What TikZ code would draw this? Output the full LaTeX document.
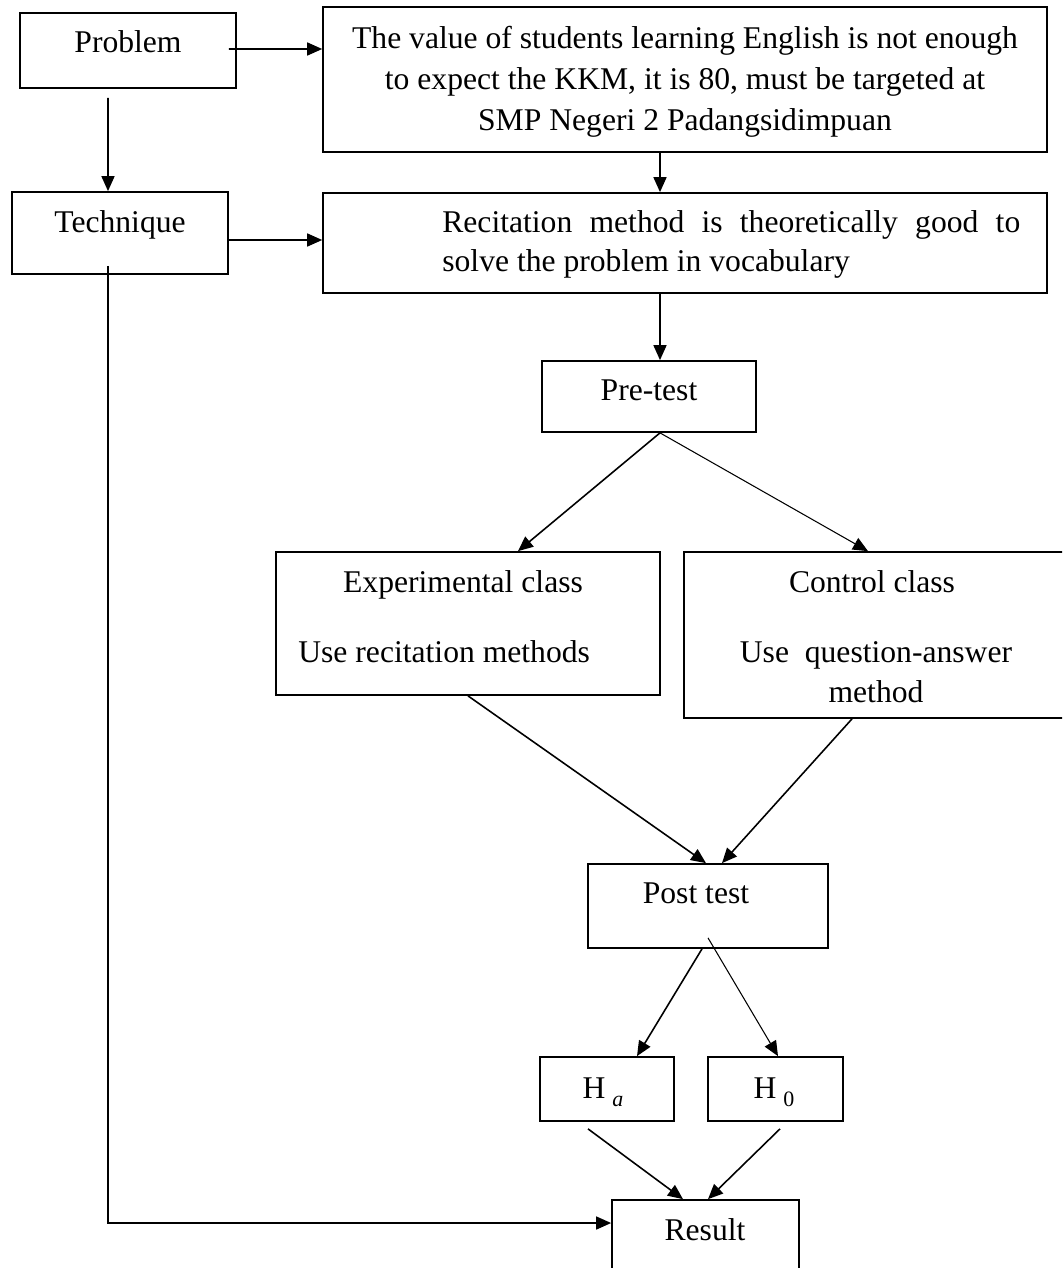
\documentclass[tikz,border=0pt]{standalone}
\usepackage{fontspec}
\setmainfont{Liberation Serif}
\usetikzlibrary{arrows.meta}
\newcommand{\hsub}[1]{H\hspace{4pt}\raisebox{-5pt}{\fontsize{12.5}{12.5}\selectfont #1}}

\begin{document}
\begin{tikzpicture}[x=0.02cm,y=-0.02cm,
	box/.style={draw,line width=1pt,inner sep=0pt},
	txt/.style={font=\fontsize{18}{23.2}\selectfont,inner sep=0pt,anchor=base},
	arr/.style={line width=0.9pt,-{Triangle[length=0.3cm,width=0.26cm]}},
	lite/.style={line width=0.6pt}]
	\useasboundingbox (0,0) rectangle (1062,1268);
	\clip (0,0) rectangle (1062,1268);
	\node[box,minimum width=4.32cm,minimum height=1.5cm] (prob) at (128,50.5) {};
	\node[box,minimum width=4.32cm,minimum height=1.64cm] (tech) at (120,233) {};
	\node[box,minimum width=14.48cm,minimum height=2.9cm] (val) at (685,79.5) {};
	\node[box,minimum width=14.48cm,minimum height=2cm] (rec) at (685,243) {};
	\node[box,minimum width=4.28cm,minimum height=1.42cm] (pre) at (649,396.5) {};
	\node[box,minimum width=7.68cm,minimum height=2.86cm] (exp) at (468,623.5) {};
	\node[box,minimum width=7.92cm,minimum height=3.32cm] (ctl) at (882,635) {};
	\node[box,minimum width=4.8cm,minimum height=1.68cm] (post) at (708,906) {};
	\node[box,minimum width=2.68cm,minimum height=1.28cm] (ha) at (607,1089) {};
	\node[box,minimum width=2.7cm,minimum height=1.28cm] (hz) at (775.5,1089) {};
	\node[box,minimum width=3.74cm,minimum height=2cm] (res) at (705.5,1250) {};
	\node[txt] (probt) at (128,52) {Problem};
	\node[txt] (techt) at (120,232) {Technique};
	\node[txt,align=center] (valt) at (685,130) {The value of students learning English is not enough\\to expect the KKM, it is 80, must be targeted at\\SMP Negeri 2 Padangsidimpuan};
	\node[txt,anchor=base west,text width=11.56cm,align=justify,font=\fontsize{18}{22.7}\selectfont] (rect) at (442,232) {Recitation method is theoretically good to solve the problem in vocabulary};
	\node[txt] (pret) at (649,400) {Pre-test};
	\node[txt] (expt) at (463,592) {Experimental class};
	\node[txt,anchor=base west] (expu) at (298,662) {Use recitation methods};
	\node[txt] (ctlt) at (872,592) {Control class};
	\node[txt,align=center,font=\fontsize{18}{22.7}\selectfont] (ctlu) at (876,702) {Use~~question-answer\\method};
	\node[txt] (postt) at (696,903) {Post test};
	\node[txt] (hat) at (603,1098) {\hsub{\itshape a}};
	\node[txt] (hzt) at (774,1098) {\hsub{0}};
	\node[txt] (rest) at (705,1240) {Result};
	\draw[arr] ([xshift=-0.4cm,yshift=-0.18cm]prob.south) -- ([xshift=-0.24cm]tech.north);
	\draw[arr] ([xshift=-0.16cm,yshift=0.03cm]prob.east) -- ([yshift=0.61cm]val.west);
	\draw[arr] ([xshift=-0.5cm]val.south) -- ([xshift=-0.5cm]rec.north);
	\draw[arr] ([yshift=-0.14cm]tech.east) -- ([yshift=0.06cm]rec.west);
	\draw[arr] ([xshift=-0.5cm]rec.south) -- ([xshift=0.22cm]pre.north);
	\draw[arr] ([xshift=0.22cm]pre.south) -- ([xshift=1cm]exp.north);
	\draw[arr,lite] ([xshift=0.22cm]pre.south) -- ([xshift=-0.28cm]ctl.north);
	\draw[arr] (exp.south) -- ([xshift=-0.04cm]post.north);
	\draw[arr] ([xshift=-0.6cm]ctl.south) -- ([xshift=0.28cm]post.north);
	\draw[arr] ([xshift=-0.12cm]post.south) -- ([xshift=0.6cm]ha.north);
	\draw[arr,lite] ([yshift=0.22cm]post.south) -- ([xshift=0.05cm]hz.north);
	\draw[arr] ([xshift=-0.38cm,yshift=-0.14cm]ha.south) -- ([xshift=-0.45cm]res.north);
	\draw[arr] ([xshift=0.09cm,yshift=-0.14cm]hz.south) -- ([xshift=0.05cm]res.north);
	\draw[arr] ([xshift=-0.24cm,yshift=0.18cm]tech.south) |- ([yshift=0.54cm]res.west);
\end{tikzpicture}
\end{document}
